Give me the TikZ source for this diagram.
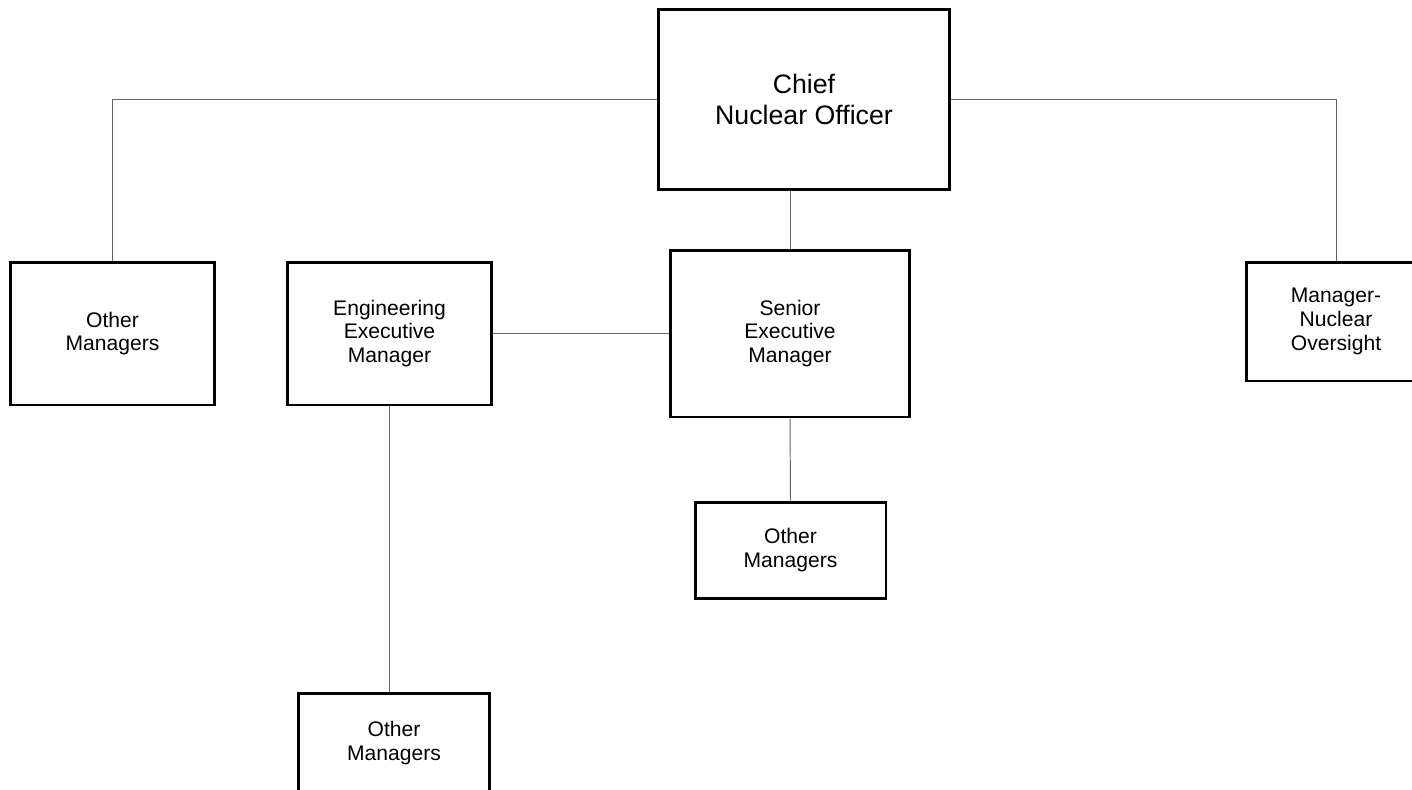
\documentclass[tikz,border=0pt]{standalone}
\usepackage{fontspec}
\setmainfont{Liberation Sans}
\usetikzlibrary{positioning}

\begin{document}
\begin{tikzpicture}[x=0.02cm, y=-0.02cm,
  box/.style={draw, line width=1.7pt, fill=white, align=center, inner sep=0pt,
    font=\fontsize{12}{13.5}\selectfont},
  link/.style={draw=black!60, line width=0.55pt}]
  \clip (0,0) rectangle (1412,789);

  \node[box, minimum width=5.84cm, minimum height=3.62cm,
    font=\fontsize{15.2}{17.8}\selectfont] (cno) at (804,99.5) {Chief\\Nuclear Officer};

  \node[box, minimum width=4.1cm, minimum height=2.86cm] (omleft) at (112.5,333.5) {Other\\Managers};
  \node[box, minimum width=4.1cm, minimum height=2.86cm] (eng) at (389.5,333.5) {Engineering\\Executive\\Manager};
  \node[box, minimum width=4.8cm, minimum height=3.34cm] (sem) at (790,333.5) {Senior\\Executive\\Manager};
  \node[box, minimum width=3.6cm, minimum height=2.38cm] (mno) at (1336,321.5) {Manager-\\Nuclear\\Oversight};

  \node[box, minimum width=3.82cm, minimum height=1.92cm] (ommid) at (790.5,550) {Other\\Managers};
  \node[box, minimum width=3.84cm, minimum height=2cm] (ombot) at (394,743) {Other\\Managers};

  % reporting lines
  \draw[link] (cno.west) -| (omleft.north);
  \draw[link] (cno.east) -| (mno.north);
  \draw[link] (sem.north) -- (sem.north |- cno.south);
  \draw[link] (eng.east) -- (sem.west);
  \draw[link] (sem.south) -- (ommid.north);
  \draw[link] (eng.south) -- (eng.south |- ombot.north);
\end{tikzpicture}
\end{document}
